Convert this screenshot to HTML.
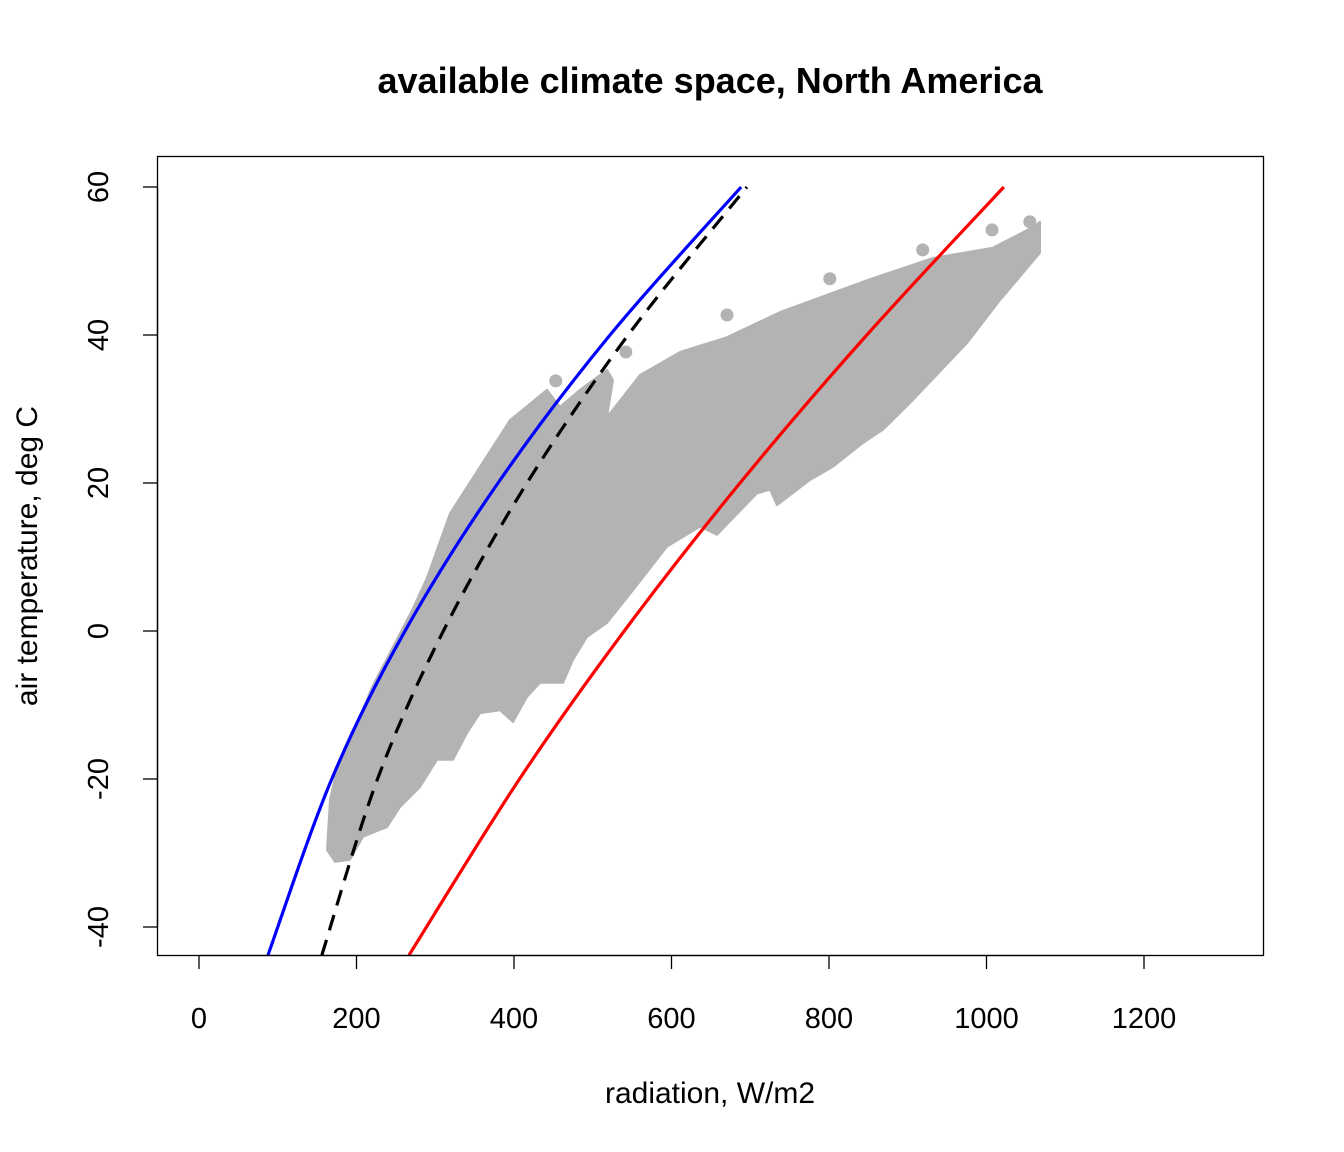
<!DOCTYPE html>
<html><head><meta charset="utf-8"><style>
html,body{margin:0;padding:0;background:#fff;}
svg{display:block;font-family:"Liberation Sans",Arial,sans-serif;}
</style></head><body>
<svg id="chart" width="1344" height="1152" viewBox="0 0 1344 1152">
<text x="710" y="93" text-anchor="middle" font-size="36" font-weight="bold">available climate space, North America</text>
<g id="cloud"></g>
<g id="lines"></g>
<rect x="157.5" y="156.5" width="1106" height="799" fill="none" stroke="#000" stroke-width="1.3"/>
<g id="xaxis"></g>
<g id="yaxis"></g>
<text x="710" y="1103" text-anchor="middle" font-size="30">radiation, W/m2</text>
<text transform="translate(37,556) rotate(-90)" text-anchor="middle" font-size="30">air temperature, deg C</text>
</svg>
<script>
const xTicks=[0,200,400,600,800,1000,1200];
const yTicks=[-40,-20,0,20,40,60];
const blueTemp=[-43.8,-20,0,20,40,60];
const blueRad=[87.6,168.6,261.6,379.7,521.9,688.4];
const blackTemp=[-43.8,-20,0,20,40,60];
const blackRad=[156,226.7,310.3,416.5,544.9,695.7];
const redTemp=[-43.8,-20,0,20,40,60];
const redRad=[266.7,407,540,687,848,1022];
const cloudRad=[162.5,166.3,174,219.7,270.5,289.5,318.7,394.9,441.9,458.4,483.8,518.1,525.7,518.1,560,610.8,670.5,737.8,848.3,932.1,1008.3,1059,1067.9,1067.9,1038.7,1017.1,975.2,902.9,868.6,843.2,805.1,775.9,734,725.1,708.6,657.8,636.2,594.3,551.1,518.1,492.7,474.9,462.2,433,416.5,398.7,382.2,356.8,340.3,322.5,302.2,280.6,255.2,238.7,208.3,191.7,172.7];
const cloudTemp=[-29.6,-22.8,-19.2,-7.6,2.8,7.2,15.9,28.5,32.6,30.3,32.6,35.3,33.9,28.9,34.6,37.7,39.7,43.1,47.4,50.4,51.8,54.6,55.3,51.1,47.4,44.7,38.9,30.8,27.2,25.4,22.2,20.4,17,19.1,18.6,13,14.1,11.4,5.5,1.1,-0.8,-3.9,-7,-7,-8.9,-12.3,-10.7,-11.1,-13.8,-17.4,-17.4,-21.1,-23.8,-26.5,-27.8,-30.9,-31.2];
const outRad=[453,542,670.5,801,919,1007,1055];
const outTemp=[33.8,37.7,42.7,47.6,51.5,54.2,55.3];

const NS="http://www.w3.org/2000/svg";
const X=v=>199+v*0.7875, Y=t=>631-t*7.4;
function mk(tag,attrs,parent){const e=document.createElementNS(NS,tag);for(const k in attrs)e.setAttribute(k,attrs[k]);parent.appendChild(e);return e;}

const cloud=document.getElementById('cloud');
const pts=cloudRad.map((r,i)=>X(r).toFixed(1)+','+Y(cloudTemp[i]).toFixed(1)).join(' ');
const poly=mk('polygon',{points:pts,fill:'#b3b3b3',stroke:'#b3b3b3','stroke-width':2,'stroke-linejoin':'round'},cloud);


outRad.forEach((r,i)=>{const c=mk('circle',{cx:X(r),cy:Y(outTemp[i]),r:6.5,fill:'#b3b3b3'},cloud);

});

const lines=document.getElementById('lines');
const clip=mk('clipPath',{id:'pc'},lines);mk('rect',{x:157,y:156,width:1107,height:800},clip);
function path(rad,temp){
  const P=rad.map((r,i)=>[X(r),Y(temp[i])]);
  let d='M'+P[0][0]+','+P[0][1];
  for(let i=0;i<P.length-1;i++){const p0=P[Math.max(0,i-1)],p1=P[i],p2=P[i+1],p3=P[Math.min(P.length-1,i+2)];
    const c1=[p1[0]+(p2[0]-p0[0])/6,p1[1]+(p2[1]-p0[1])/6],c2=[p2[0]-(p3[0]-p1[0])/6,p2[1]-(p3[1]-p1[1])/6];
    d+=` C${c1[0]},${c1[1]} ${c2[0]},${c2[1]} ${p2[0]},${p2[1]}`;}
  return d;}
const bl=mk('path',{d:path(blueRad,blueTemp),fill:'none',stroke:'#0000ff','stroke-width':3.2,'clip-path':'url(#pc)'},lines);


const bk=mk('path',{d:path(blackRad,blackTemp),fill:'none',stroke:'#000','stroke-width':3.2,'stroke-dasharray':'16 10','clip-path':'url(#pc)'},lines);


const rd=mk('path',{d:path(redRad,redTemp),fill:'none',stroke:'#ff0000','stroke-width':3.2,'clip-path':'url(#pc)'},lines);



const xa=document.getElementById('xaxis');
mk('line',{x1:X(0),x2:X(1200),y1:955.5,y2:955.5,stroke:'#000','stroke-width':1.3},xa);
xTicks.forEach(v=>{mk('line',{x1:X(v),x2:X(v),y1:955,y2:969,stroke:'#000','stroke-width':1.3},xa);
 const t=mk('text',{x:X(v),y:1028,'text-anchor':'middle','font-size':29},xa);t.textContent=v;
 
 });
const ya=document.getElementById('yaxis');
mk('line',{x1:157.5,x2:157.5,y1:Y(-40),y2:Y(60),stroke:'#000','stroke-width':1.3},ya);
yTicks.forEach(v=>{mk('line',{x1:143,x2:157,y1:Y(v),y2:Y(v),stroke:'#000','stroke-width':1.3},ya);
 const t=mk('text',{transform:`translate(108,${Y(v)}) rotate(-90)`,'text-anchor':'middle','font-size':29},ya);t.textContent=v;
 
 });
</script>
</body></html>
